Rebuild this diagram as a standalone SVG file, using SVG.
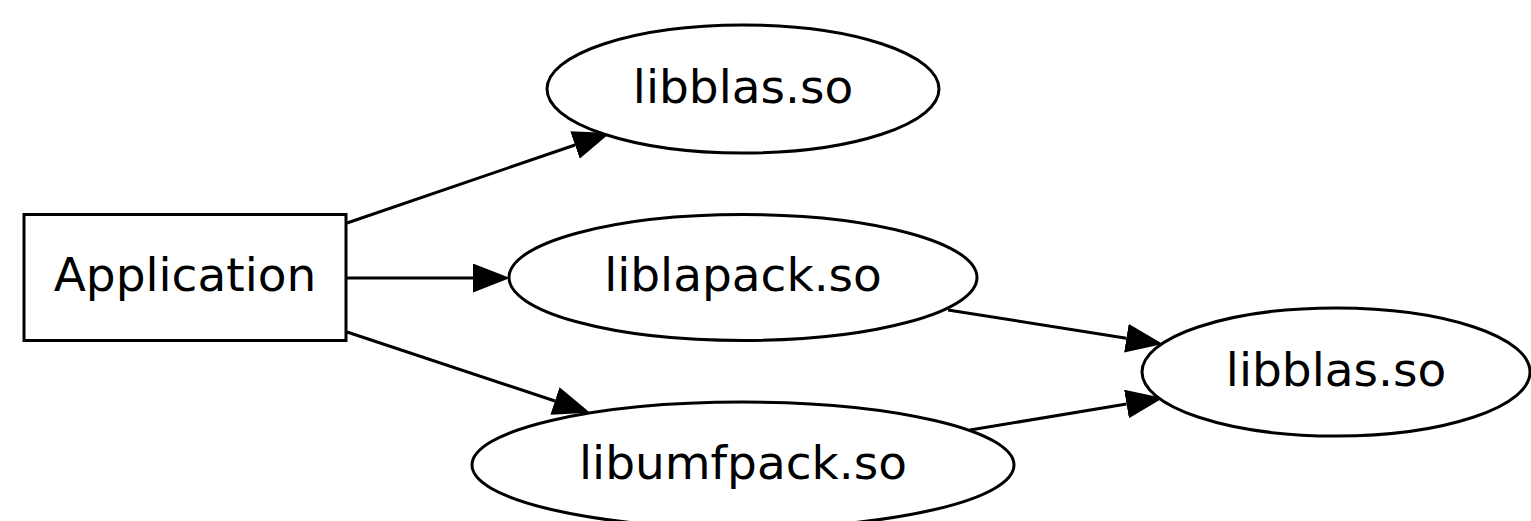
<svg xmlns="http://www.w3.org/2000/svg" width="1531" height="521" viewBox="0 0 1531 521">
<style>
.n{fill:#fff;stroke:#000;stroke-width:3}
.t{font-family:"DejaVu Sans",sans-serif;font-size:47px;text-anchor:middle;fill:#000}
.e{stroke:#000;stroke-width:3;fill:none;marker-end:url(#ah)}
</style>
<defs>
<marker id="ah" viewBox="0 0 37 29" refX="0" refY="14.5" markerWidth="37" markerHeight="29" markerUnits="userSpaceOnUse" orient="auto">
<path d="M0,0 L37,14.5 L0,29 Z" fill="#000"/>
</marker>
</defs>
<rect width="1531" height="521" fill="#fff"/>
<g id="connectors">
<line class="e" x1="347" y1="223" x2="575" y2="145"/>
<line class="e" x1="346" y1="278" x2="473" y2="278"/>
<line class="e" x1="347" y1="332" x2="555" y2="401"/>
<line class="e" x1="948" y1="310" x2="1126.4" y2="338.2"/>
<line class="e" x1="970" y1="430" x2="1126.5" y2="404"/>
</g>
<g id="app">
<rect class="n" x="24" y="214.5" width="322" height="126"/>
<text class="t" x="185" y="291">Application</text>
</g>
<g id="libblas1">
<ellipse class="n" cx="743" cy="89" rx="196" ry="64"/>
<text class="t" x="743" y="103">libblas.so</text>
</g>
<g id="liblapack">
<ellipse class="n" cx="743" cy="277.5" rx="234" ry="63"/>
<text class="t" x="743" y="291">liblapack.so</text>
</g>
<g id="libumfpack">
<ellipse class="n" cx="743" cy="465" rx="271" ry="63"/>
<text class="t" x="743" y="479">libumfpack.so</text>
</g>
<g id="libblas2">
<ellipse class="n" cx="1336" cy="372" rx="194" ry="64"/>
<text class="t" x="1336" y="386">libblas.so</text>
</g>
</svg>
